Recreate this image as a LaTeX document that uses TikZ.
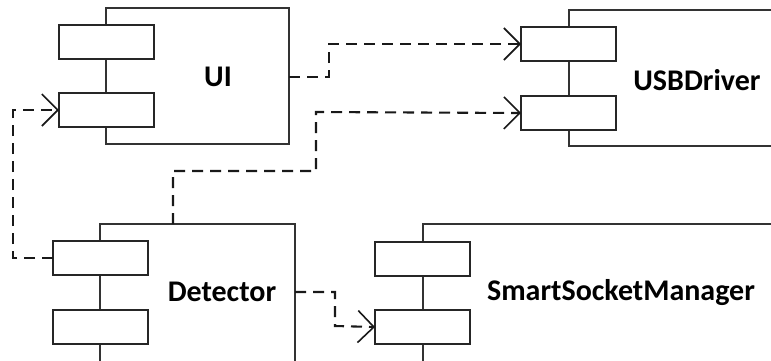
\documentclass[tikz,border=0pt]{standalone}
\usepackage{fontspec}
\setmainfont{Carlito}
\usetikzlibrary{arrows.meta}
\tikzset{
  compbox/.style={draw=black!80, line width=1.1pt, fill=white, anchor=north west, inner sep=0pt, outer sep=0pt},
  portbox/.style={draw=black!85, line width=1.1pt, fill=white, anchor=north west, inner sep=0pt, outer sep=0pt, minimum width=95pt, minimum height=34pt},
  lbl/.style={font=\fontsize{30}{35}\selectfont\bfseries, text=black, inner sep=0pt},
  dep/.style={draw=black!90, line width=2.1pt, dash pattern=on 11pt off 7pt, -{Straight Barb[length=16pt,width=32pt,line width=1.6pt]}}
}
\begin{document}
\begin{tikzpicture}[x=1pt,y=-1pt]
\useasboundingbox (0,0) rectangle (771,360);
\clip (0,0) rectangle (771,360);
% UI
\node[compbox, minimum width=183pt, minimum height=136pt] (ui) at (106,8) {};
\node[portbox] (uip1) at (59,25) {};
\node[portbox] (uip2) at (59,93) {};
\node[lbl] (uil) at (218,77) {UI};
% USBDriver
\node[compbox, minimum width=260pt, minimum height=136pt] (usb) at (569,10) {};
\node[portbox] (usbp1) at (521,27) {};
\node[portbox] (usbp2) at (521,96) {};
\node[lbl] (usbl) at (697,80) {USBDriver};
% Detector
\node[compbox, minimum width=195pt, minimum height=170pt] (det) at (100,224) {};
\node[portbox] (detp1) at (53,241) {};
\node[portbox] (detp2) at (53,310) {};
\node[lbl] (detl) at (222,292) {Detector};
% SmartSocketManager
\node[compbox, minimum width=400pt, minimum height=170pt] (ssm) at (423,224) {};
\node[portbox] (ssmp1) at (375,242) {};
\node[portbox] (ssmp2) at (375,310) {};
\node[lbl] (ssml) at (621,293) {SmartSocketManager};
% connectors
\coordinate (uiout) at (289,77);
\coordinate (detout) at (295,292);
\coordinate (dettop) at (173,224);
\draw[dep] (uiout) -- (329,77) -- (329,44) -- (usbp1.west);
\draw[dep] (dettop) -- (173,171) -- (316,171) -- (316,112) -- (usbp2.west);
\draw[dep] (detp1.west) -- (13,258) -- (13,110) -- (uip2.west);
\draw[dep] (detout) -- (335,292) -- (335,326) -- (ssmp2.west);
\end{tikzpicture}
\end{document}
